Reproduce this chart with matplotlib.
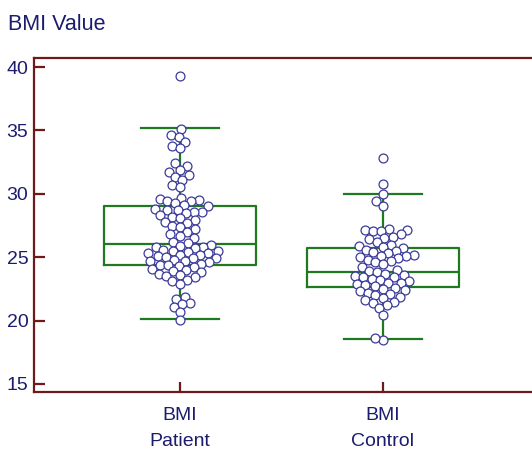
import matplotlib
matplotlib.use("Agg")
import matplotlib.pyplot as plt
import numpy as np

groups = ["Patient", "Control"]
tick_labels = ["BMI\nPatient", "BMI\nControl"]

patient = [39.3,
           35.1, 34.6, 34.5, 34.1, 33.8, 33.6,
           32.4, 32.2, 31.9, 31.7, 31.5, 31.3, 31.1, 30.7, 30.5,
           29.7, 29.6, 29.5, 29.4, 29.4, 29.3, 29.1, 29.0, 28.8, 28.7, 28.7,
           28.6, 28.6, 28.5, 28.3, 28.2, 28.1, 27.9, 27.8, 27.7, 27.5, 27.4,
           27.2, 27.0, 26.8, 26.7, 26.5,
           26.2, 26.1, 26.0, 25.9, 25.8, 25.8, 25.7, 25.6, 25.5, 25.5, 25.4,
           25.3, 25.3, 25.2, 25.2, 25.1, 25.0, 24.9, 24.9, 24.8, 24.7, 24.7,
           24.6, 24.5, 24.4, 24.4, 24.3, 24.2, 24.1, 24.0, 23.9, 23.8, 23.7,
           23.6, 23.5, 23.4, 23.2, 23.1, 22.9,
           21.9, 21.7, 21.4, 21.3, 21.1, 20.7, 20.05]

control = [32.8, 30.75, 29.95, 29.4, 29.05,
           27.2, 27.15, 27.15, 27.1, 27.1, 26.8, 26.6, 26.5, 26.4, 26.2, 26.0,
           25.9, 25.8, 25.7, 25.6, 25.5, 25.4, 25.3, 25.2, 25.1, 25.1, 25.0,
           24.9, 24.8, 24.7, 24.6, 24.5,
           24.2, 24.0, 23.9, 23.8, 23.7, 23.6, 23.5, 23.4, 23.4, 23.3, 23.2,
           23.1, 23.0, 23.0, 22.9, 22.8, 22.7, 22.6, 22.5, 22.4, 22.3, 22.2,
           22.1, 22.0, 21.9, 21.8, 21.6, 21.5, 21.4, 21.2, 21.0,
           20.45, 18.5, 18.6]

# box statistics
q1 = [24.4, 22.65]
median = [26.05, 23.85]
q3 = [29.05, 25.75]
whisker_low = [20.1, 18.55]
whisker_high = [35.15, 29.95]

green = "#1f7a1f"
maroon = "#6e1a1a"
navy = "#1c1c6e"
mark_edge = "#3b3b9a"

plt.rcParams["font.family"] = ["Liberation Sans", "DejaVu Sans"]

W, H = 532, 453
fig = plt.figure(figsize=(W/100, H/100), dpi=100)
ax = fig.add_axes([34/W, 1-392/H, 1-34/W, (392-58)/H])

xlim = (1 - 146/203 - 1, 2 + 149/203 - 1)
ylim = (15 - 8/12.68, 40 + 9/12.68)
ax.set_xlim(*xlim)
ax.set_ylim(*ylim)

stats = []
for i in range(2):
    stats.append(dict(med=median[i], q1=q1[i], q3=q3[i],
                      whislo=whisker_low[i], whishi=whisker_high[i], fliers=[]))
ax.bxp(stats, positions=[0, 1], widths=0.75, showfliers=False,
       boxprops=dict(color=green, linewidth=1.6),
       medianprops=dict(color=green, linewidth=1.6),
       whiskerprops=dict(color=green, linewidth=1.6),
       capprops=dict(color=green, linewidth=1.6),
       capwidths=0.38, zorder=1)


def beeswarm(values, center, d_px):
    """Place points in display space so that centers are >= d_px apart."""
    vals = np.asarray(values, float)
    pts = ax.transData.transform(np.column_stack([np.full(len(vals), center), vals]))
    order = np.argsort(pts[:, 1])
    cx = pts[0, 0]
    placed = []
    xs = np.zeros(len(vals))
    for idx in order:
        y = pts[idx, 1]
        cands = [0.0]
        near = [(px, py) for px, py in placed if abs(py - y) < d_px]
        for px, py in near:
            dx = np.sqrt(d_px**2 - (py - y)**2)
            cands += [px + dx, px - dx]
        cands = sorted(cands, key=lambda c: (abs(c), c))
        for c in cands:
            ok = all((c - px)**2 + (y - py)**2 >= d_px**2 - 1e-6 for px, py in near)
            if ok:
                break
        placed.append((c, y))
        xs[idx] = cx + c
    disp = np.column_stack([xs, pts[:, 1]])
    return ax.transData.inverted().transform(disp)[:, 0], vals


fig.canvas.draw()
dpx = 8.0
for i, vals in enumerate([patient, control]):
    xs, ys = beeswarm(vals, i, dpx)
    ax.plot(xs, ys, linestyle="none", marker="o", markersize=6.4,
            markerfacecolor="white", markeredgecolor=mark_edge,
            markeredgewidth=0.9, zorder=3)

ax.set_xticks([0, 1])
ax.set_xticklabels(tick_labels, linespacing=1.65)
ax.set_yticks([15, 20, 25, 30, 35, 40])

for s in ["left", "bottom", "top"]:
    ax.spines[s].set_color(maroon)
    ax.spines[s].set_linewidth(1.6)
ax.spines["right"].set_visible(False)
ax.tick_params(axis="both", direction="in", color=maroon, width=1.6,
               labelcolor=navy, labelsize=14)
ax.tick_params(axis="y", length=8, pad=4)
ax.tick_params(axis="x", length=7, pad=11)

fig.text(8/W, 1-24/H, "BMI Value", color=navy, fontsize=15.5,
         ha="left", va="center")

fig.savefig("out.png", dpi=100)
